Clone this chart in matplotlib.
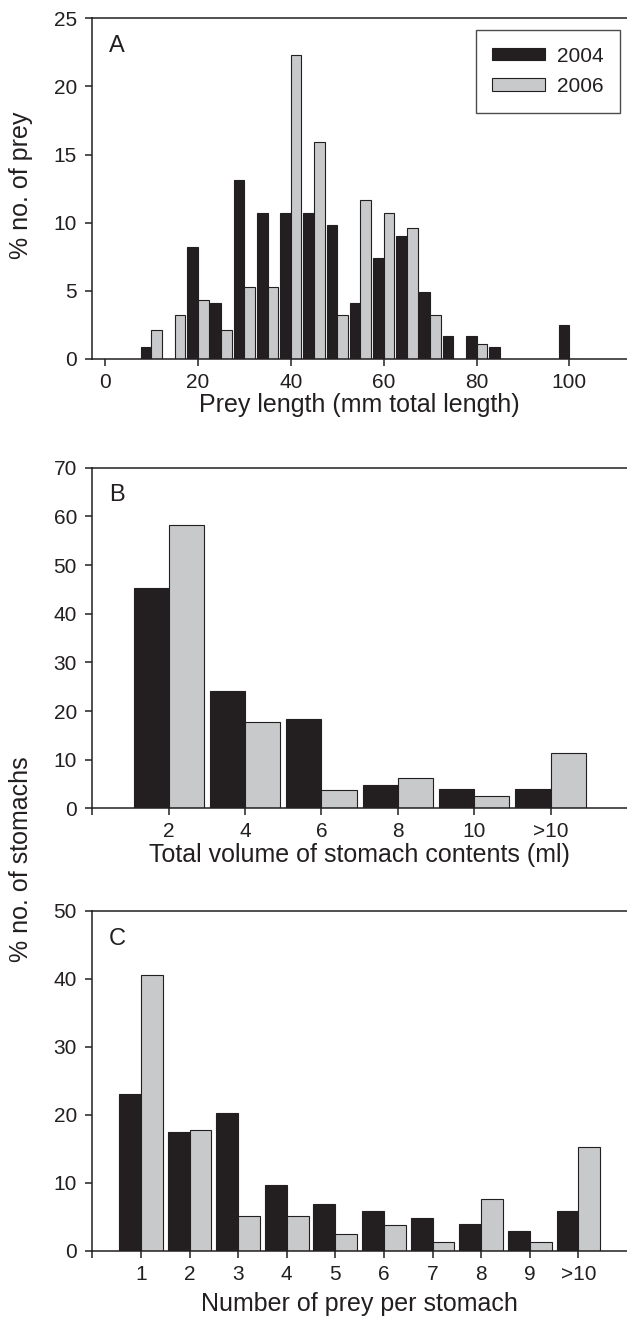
import matplotlib
matplotlib.use("Agg")
import matplotlib.pyplot as plt
import numpy as np
from matplotlib.patches import Patch

plt.rcParams['font.family'] = ['Liberation Sans', 'DejaVu Sans']

INK = '#231f20'
GREY = '#c8c9cb'

# Panel A: prey length bins (mm), % no. of prey
len_bins = [10, 15, 20, 25, 30, 35, 40, 45, 50, 55, 60, 65, 70, 75, 80, 85, 100]
len_2004 = [0.85, 0, 8.2, 4.1, 13.1, 10.7, 10.7, 10.7, 9.8, 4.1, 7.4, 9.05, 4.9, 1.65, 1.65, 0.85, 2.5]
len_2006 = [2.15, 3.2, 4.3, 2.15, 5.3, 5.3, 22.3, 15.95, 3.2, 11.7, 10.7, 9.6, 3.2, 0, 1.1, 0, 0]

# Panel B: total volume of stomach contents (ml), % no. of stomachs
vol_labels = ['2', '4', '6', '8', '10', '>10']
vol_2004 = [45.3, 24.2, 18.3, 4.9, 3.9, 3.9]
vol_2006 = [58.3, 17.8, 3.8, 6.3, 2.5, 11.4]

# Panel C: number of prey per stomach, % no. of stomachs
num_labels = ['1', '2', '3', '4', '5', '6', '7', '8', '9', '>10']
num_2004 = [23.1, 17.4, 20.2, 9.7, 6.8, 5.8, 4.8, 3.9, 2.9, 5.8]
num_2006 = [40.5, 17.7, 5.1, 5.1, 2.5, 3.8, 1.3, 7.6, 1.3, 15.2]

fig = plt.figure(figsize=(6.27, 13.24), dpi=100)
axA = fig.add_axes([0.1472, 0.7289, 0.8528, 0.2573])
axB = fig.add_axes([0.1472, 0.3894, 0.8528, 0.2574])
axC = fig.add_axes([0.1472, 0.05536, 0.8528, 0.2568])


def style(ax):
    ax.spines['right'].set_visible(False)
    for s in ['left', 'bottom', 'top']:
        ax.spines[s].set_color(INK)
        ax.spines[s].set_linewidth(1.1)
    ax.tick_params(axis='both', colors=INK, labelsize=15, length=5, width=1.1,
                   direction='out')
    ax.tick_params(axis='x', pad=5)
    ax.tick_params(axis='y', pad=6)


# A
xA = np.asarray(len_bins, dtype=float)
axA.bar(xA - 2.3, len_2004, width=2.3, align='edge', color=INK, edgecolor=INK, linewidth=0.8)
axA.bar(xA, len_2006, width=2.3, align='edge', color=GREY, edgecolor=INK, linewidth=0.8)
axA.set_xlim(-2.75, 112.4)
axA.set_ylim(0, 25)
axA.set_xticks([0, 20, 40, 60, 80, 100])
axA.set_yticks([0, 5, 10, 15, 20, 25])
style(axA)
axA.set_xlabel('Prey length (mm total length)', fontsize=18, color=INK, labelpad=1)
axA.text(0.031, 0.95, 'A', transform=axA.transAxes, fontsize=17, color=INK,
         ha='left', va='top')
handles = [Patch(facecolor=INK, edgecolor=INK, linewidth=0.8, label='2004'),
           Patch(facecolor=GREY, edgecolor=INK, linewidth=0.8, label='2006')]
leg = axA.legend(handles=handles, loc='upper right', bbox_to_anchor=(0.987, 0.966),
                 borderaxespad=0, fontsize=15, frameon=True, fancybox=False,
                 handlelength=2.55, handleheight=0.53, handletextpad=0.55,
                 borderpad=0.8, labelspacing=0.55)
leg.get_frame().set_edgecolor(INK)
leg.get_frame().set_linewidth(1.0)
for t in leg.get_texts():
    t.set_color(INK)

# B
xB = np.arange(1, len(vol_labels) + 1)
axB.bar(xB - 0.46, vol_2004, width=0.46, align='edge', color=INK, edgecolor=INK, linewidth=0.8)
axB.bar(xB, vol_2006, width=0.46, align='edge', color=GREY, edgecolor=INK, linewidth=0.8)
axB.set_xlim(0, 7)
axB.set_ylim(0, 70)
axB.set_xticks(np.arange(0, len(vol_labels) + 1))
axB.set_xticklabels([''] + vol_labels)
axB.set_yticks(np.arange(0, 71, 10))
style(axB)
axB.set_xlabel('Total volume of stomach contents (ml)', fontsize=18, color=INK, labelpad=1)
axB.text(0.031, 0.953, 'B', transform=axB.transAxes, fontsize=17, color=INK,
         ha='left', va='top')

# C
xC = np.arange(1, len(num_labels) + 1)
axC.bar(xC - 0.45, num_2004, width=0.45, align='edge', color=INK, edgecolor=INK, linewidth=0.8)
axC.bar(xC, num_2006, width=0.45, align='edge', color=GREY, edgecolor=INK, linewidth=0.8)
axC.set_xlim(0, 11)
axC.set_ylim(0, 50)
axC.set_xticks(np.arange(0, len(num_labels) + 1))
axC.set_xticklabels([''] + num_labels)
axC.set_yticks(np.arange(0, 51, 10))
style(axC)
axC.set_xlabel('Number of prey per stomach', fontsize=18, color=INK, labelpad=6)
axC.text(0.031, 0.95, 'C', transform=axC.transAxes, fontsize=17, color=INK,
         ha='left', va='top')

# y labels
fig.text(0.0335, 0.8603, '% no. of prey', rotation=90, ha='center', va='center',
         fontsize=18, color=INK)
fig.text(0.0335, 0.351, '% no. of stomachs', rotation=90, ha='center', va='center',
         fontsize=18, color=INK)

fig.savefig('out.png', dpi=100)
